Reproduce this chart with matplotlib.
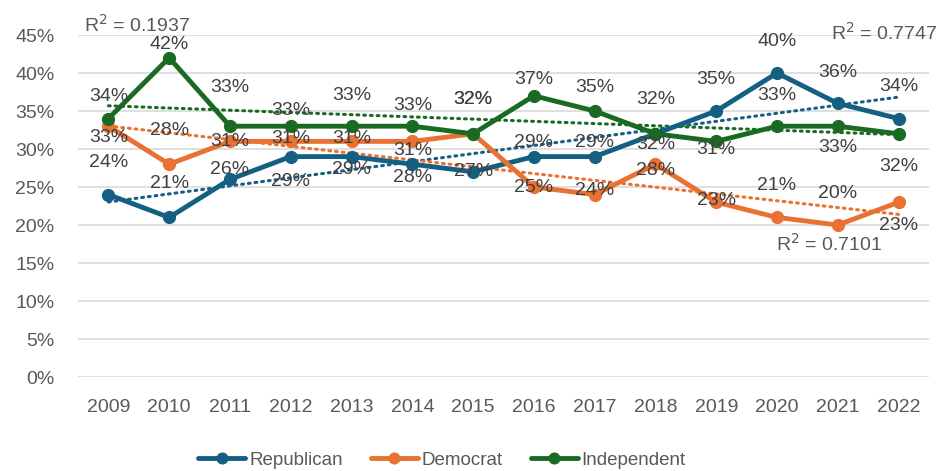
import matplotlib
matplotlib.use("Agg")
import matplotlib.pyplot as plt
import numpy as np
from matplotlib import font_manager

years = ["2009", "2010", "2011", "2012", "2013", "2014", "2015",
         "2016", "2017", "2018", "2019", "2020", "2021", "2022"]
republican = [24, 21, 26, 29, 29, 28, 27, 29, 29, 32, 35, 40, 36, 34]
democrat = [33, 28, 31, 31, 31, 31, 32, 25, 24, 28, 23, 21, 20, 23]
independent = [34, 42, 33, 33, 33, 33, 32, 37, 35, 32, 31, 33, 33, 32]
r2_labels = {"Republican": "R$^2$ = 0.7747", "Democrat": "R$^2$ = 0.7101",
             "Independent": "R$^2$ = 0.1937"}

# label placement (pixels above the point)
rep_dy = [32, 34, 10, -25, -13, -13, 0, 14, 14, -11, 31, 31, 31, 32]
dem_dy = [-11, 34, 0, 3, 3, -9, 34, 0, 4, -6, 2, 32, 32, -23]
ind_dy = [22, 13, 39, 16, 31, 21, 34, 16, 23, 34, -8, 31, -21, -33]

names = [f.name for f in font_manager.fontManager.ttflist]
fam = "Liberation Sans" if "Liberation Sans" in names else "DejaVu Sans"
plt.rcParams["font.family"] = [fam, "DejaVu Sans"]

fig = plt.figure(figsize=(9.45, 4.71), dpi=100)
ax = fig.add_axes([78 / 945, 94 / 471, 851 / 945, 342 / 471])

x = np.arange(len(years))
series = [
    ("Republican", republican, "#156082", rep_dy, (-14, 64)),
    ("Democrat", democrat, "#E97132", dem_dy, (-69, -29)),
    ("Independent", independent, "#196B24", ind_dy, None),
]

for name, vals, col, dys, r2pos in series:
    vals = np.array(vals, dtype=float)
    ax.plot(x, vals, color=col, lw=3.5, marker="o", ms=8.5, label=name,
            solid_capstyle="round", zorder=3)
    k, b = np.polyfit(x, vals, 1)
    trend = k * x + b
    ax.plot([x[0], x[-1]], [trend[0], trend[-1]], color=col, lw=2.2,
            linestyle=(0, (0.6, 1.6)), dash_capstyle="round", zorder=2)
    for xi, v, dy in zip(x, vals, dys):
        ax.annotate(f"{int(v)}%", (xi, v), xytext=(0, dy),
                    textcoords="offset pixels", ha="center", va="center",
                    fontsize=14, color="#404040", zorder=5)
    if name == "Independent":
        ax.annotate(r2_labels[name], (x[0], trend[0]), xytext=(29, 81),
                    textcoords="offset pixels", ha="center", va="center",
                    fontsize=14, color="#595959")
    else:
        ax.annotate(r2_labels[name], (x[-1], trend[-1]), xytext=r2pos,
                    textcoords="offset pixels", ha="center", va="center",
                    fontsize=14, color="#595959")

ax.set_xlim(-0.5, len(years) - 0.5)
ax.set_ylim(0, 45)
ax.set_yticks(range(0, 46, 5))
ax.set_yticklabels([f"{t}%" for t in range(0, 46, 5)])
ax.set_xticks(x)
ax.set_xticklabels(years)
ax.tick_params(length=0, labelsize=14, labelcolor="#595959")
ax.tick_params(axis="y", pad=17)
ax.tick_params(axis="x", pad=16)
ax.grid(axis="y", color="#d9d9d9", lw=1.2)
ax.set_axisbelow(True)
for s in ax.spines.values():
    s.set_visible(False)

fig.legend(loc="center", bbox_to_anchor=(442 / 945, 11 / 471), ncol=3,
           frameon=False, fontsize=13.5, labelcolor="#595959",
           handlelength=2.5, handletextpad=0.2, columnspacing=1.5,
           markerscale=0.9)

fig.savefig("out.png", dpi=100)
